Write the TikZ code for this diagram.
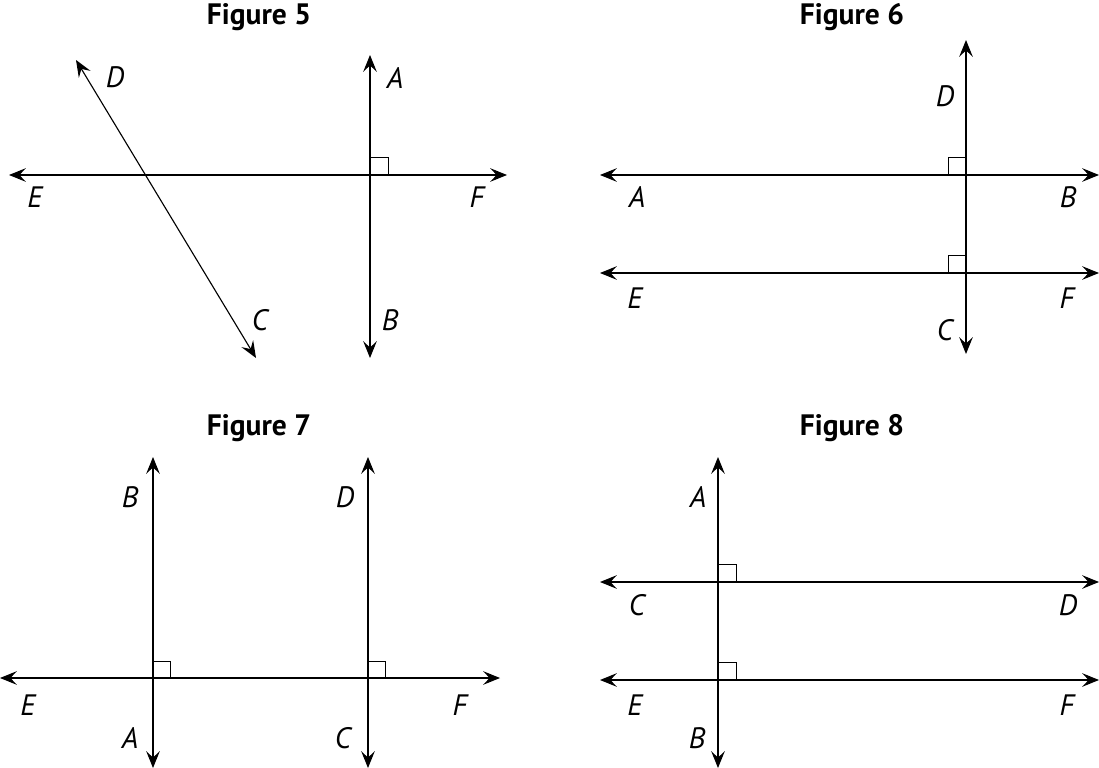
\documentclass[tikz,border=0pt]{standalone}
\usepackage{fontspec}
\setsansfont{PT Sans}
\usetikzlibrary{arrows.meta}
\tikzstyle{ray}=[{Stealth[length=4.2mm,width=3.4mm,inset=1.6mm]}-{Stealth[length=4.2mm,width=3.4mm,inset=1.6mm]}, line width=0.8pt]
\tikzstyle{rmark}=[line width=0.55pt]
\tikzstyle{pt}=[font=\sffamily\itshape\fontsize{21}{24}\selectfont, inner sep=0pt]
\tikzstyle{title}=[font=\sffamily\bfseries\fontsize{21}{24}\selectfont, inner sep=0pt]

\begin{document}
\begin{tikzpicture}[x=0.025cm, y=-0.025cm]
        \useasboundingbox (0,0) rectangle (1099,768);
        % Figure 5
        \node[title] (T5) at (259,17) {Figure 5};
        \coordinate (E5) at (9,175);
        \coordinate (F5) at (507,175);
        \coordinate (A5) at (370,55);
        \coordinate (B5) at (370,358);
        \coordinate (D5) at (76,60);
        \coordinate (C5) at (256,358);
        \draw[ray] (E5) -- (F5);
        \draw[ray] (A5) -- (B5);
        \draw[ray] (D5) -- (C5);
        \draw[rmark] (370,157) -| (388,175);
        \node[pt] (lD5) at (115,77) {D};
        \node[pt] (lA5) at (395,78) {A};
        \node[pt] (lE5) at (35,197) {E};
        \node[pt] (lF5) at (477,197) {F};
        \node[pt] (lC5) at (260,320) {C};
        \node[pt] (lB5) at (390,320) {B};
        % Figure 6
        \node[title] (T6) at (852,17) {Figure 6};
        \coordinate (A6) at (600,175);
        \coordinate (B6) at (1099,175);
        \coordinate (E6) at (600,273);
        \coordinate (F6) at (1099,273);
        \coordinate (D6) at (966,40);
        \coordinate (C6) at (966,354);
        \draw[ray] (A6) -- (B6);
        \draw[ray] (E6) -- (F6);
        \draw[ray] (D6) -- (C6);
        \draw[rmark] (966,157) -| (948,175);
        \draw[rmark] (966,255) -| (948,273);
        \node[pt] (lD6) at (945,96) {D};
        \node[pt] (lA6) at (637,197) {A};
        \node[pt] (lB6) at (1068,197) {B};
        \node[pt] (lE6) at (635,298) {E};
        \node[pt] (lF6) at (1067,298) {F};
        \node[pt] (lC6) at (945,330) {C};
        % Figure 7
        \node[title] (T7) at (259,428) {Figure 7};
        \coordinate (E7) at (0,678);
        \coordinate (F7) at (500,678);
        \coordinate (B7) at (153,457);
        \coordinate (A7) at (153,768);
        \coordinate (D7) at (368,457);
        \coordinate (C7) at (368,768);
        \draw[ray] (E7) -- (F7);
        \draw[ray] (B7) -- (A7);
        \draw[ray] (D7) -- (C7);
        \draw[rmark] (153,661) -| (170,678);
        \draw[rmark] (368,661) -| (385,678);
        \node[pt] (lB7) at (130,497) {B};
        \node[pt] (lD7) at (345,497) {D};
        \node[pt] (lE7) at (28,705) {E};
        \node[pt] (lF7) at (460,705) {F};
        \node[pt] (lA7) at (130,738) {A};
        \node[pt] (lC7) at (343,738) {C};
        % Figure 8
        \node[title] (T8) at (852,428) {Figure 8};
        \coordinate (C8) at (600,582);
        \coordinate (D8) at (1099,582);
        \coordinate (E8) at (600,680);
        \coordinate (F8) at (1099,680);
        \coordinate (A8) at (718,457);
        \coordinate (B8) at (718,768);
        \draw[ray] (C8) -- (D8);
        \draw[ray] (E8) -- (F8);
        \draw[ray] (A8) -- (B8);
        \draw[rmark] (718,564) -| (736,582);
        \draw[rmark] (718,662) -| (736,680);
        \node[pt] (lA8) at (698,497) {A};
        \node[pt] (lC8) at (637,605) {C};
        \node[pt] (lD8) at (1068,605) {D};
        \node[pt] (lE8) at (635,705) {E};
        \node[pt] (lF8) at (1067,705) {F};
        \node[pt] (lB8) at (697,738) {B};
    \end{tikzpicture}
\end{document}
